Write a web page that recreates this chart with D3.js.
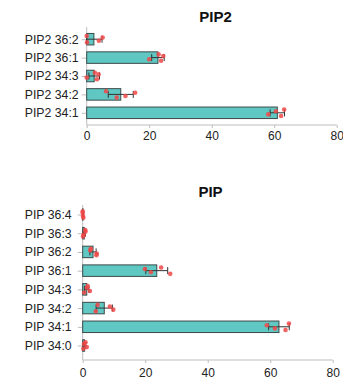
<!DOCTYPE html>
<html>
<head>
<meta charset="utf-8">
<script src="https://cdn.jsdelivr.net/npm/d3@7"></script>
<style>
  html, body { margin: 0; padding: 0; background: #fff; }
  svg { display: block; font-family: "Liberation Sans", Arial, sans-serif; }
</style>
</head>
<body>
<svg id="chart" width="343" height="385"></svg>
<script>
// PIP2 species: mean %, SD and individual replicates
const pip2Categories = ["PIP2 36:2", "PIP2 36:1", "PIP2 34:3", "PIP2 34:2", "PIP2 34:1"];
const pip2Means = [2.3, 22.8, 2.4, 10.9, 61.0];
const pip2Errors = [2.6, 2.0, 1.7, 4.0, 2.3];
const pip2Points = [
  [0.0, 0.1, 3.9, 5.1],
  [23.0, 23.8, 20.0, 24.5],
  [2.6, 3.3, 0.0, 3.8],
  [6.2, 9.6, 12.4, 15.5],
  [63.2, 62.2, 58.1, 60.5]
];

// PIP species
const pipCategories = ["PIP 36:4", "PIP 36:3", "PIP 36:2", "PIP 36:1", "PIP 34:3", "PIP 34:2", "PIP 34:1", "PIP 34:0"];
const pipMeans = [0.1, 0.5, 3.3, 23.7, 1.3, 6.9, 62.8, 0.6];
const pipErrors = [0.1, 0.35, 1.0, 3.5, 0.7, 2.6, 3.3, 0.4];
const pipPoints = [
  [0.0, 0.2, 0.1, 0.0],
  [0.8, 0.1, 0.3, 0.9],
  [2.6, 4.4, 4.5, 2.4],
  [25.1, 28.0, 21.8, 19.9],
  [1.6, 0.5, 2.3, 1.3],
  [4.8, 4.2, 9.8, 8.7],
  [66.0, 64.9, 61.5, 58.9],
  [0.9, 0.2, 1.3, 0.4]
];

const xTicks = [0, 20, 40, 60, 80];

const svg = d3.select("#chart");
const jitter = [-3.2, 3.2, 1.6, -1.6];

function drawPanel(cfg) {
  const g = svg.append("g");
  const x = d3.scaleLinear().domain([0, 80]).range(cfg.xRange);
  const y = d3.scalePoint().domain(cfg.categories).range(cfg.yCenters);
  const barH = 11.5;

  // title
  g.append("text")
    .attr("x", cfg.titleX).attr("y", cfg.titleY)
    .attr("text-anchor", "middle")
    .attr("font-weight", "bold")
    .attr("font-size", 15)
    .attr("fill", "#111")
    .text(cfg.title);

  // axis lines
  g.append("line")
    .attr("x1", x(0)).attr("x2", x(0))
    .attr("y1", cfg.axisTop).attr("y2", cfg.axisBottom)
    .attr("stroke", "#bdbdbd").attr("stroke-width", 1);
  g.append("line")
    .attr("x1", x(0)).attr("x2", cfg.xRange[1])
    .attr("y1", cfg.axisBottom).attr("y2", cfg.axisBottom)
    .attr("stroke", "#bdbdbd").attr("stroke-width", 1);

  // category axis
  const yAxis = g.append("g")
    .attr("transform", `translate(${x(0)},0)`)
    .call(d3.axisLeft(y).tickSize(5).tickSizeOuter(0).tickPadding(cfg.labelPad));
  yAxis.select(".domain").remove();
  yAxis.selectAll("line").attr("stroke", "#bdbdbd");
  yAxis.selectAll("text").attr("font-size", 12.3).attr("fill", "#222")
    .attr("font-family", "Liberation Sans, Arial, sans-serif");

  // value axis
  const xAxis = g.append("g")
    .attr("transform", `translate(0,${cfg.axisBottom})`)
    .call(d3.axisBottom(x).tickValues(xTicks).tickSize(3).tickSizeOuter(0).tickPadding(cfg.tickPad));
  xAxis.select(".domain").remove();
  xAxis.selectAll("line").attr("stroke", "#bdbdbd");
  xAxis.selectAll("text").attr("font-size", 12).attr("fill", "#222")
    .attr("font-family", "Liberation Sans, Arial, sans-serif");

  // bars
  g.selectAll("rect.bar").data(cfg.categories).enter().append("rect")
    .attr("class", "bar")
    .attr("x", x(0))
    .attr("y", d => y(d) - barH / 2)
    .attr("width", (d, i) => Math.max(0, x(cfg.means[i]) - x(0)))
    .attr("height", barH)
    .attr("fill", "#5fc8c3")
    .attr("stroke", "#3c4a4a")
    .attr("stroke-width", 1);

  // error bars (mean ± SD)
  const eb = g.selectAll("g.err").data(cfg.categories).enter().append("g").attr("class", "err");
  eb.append("line")
    .attr("x1", (d, i) => x(Math.max(0, cfg.means[i] - cfg.errors[i])))
    .attr("x2", (d, i) => x(cfg.means[i] + cfg.errors[i]))
    .attr("y1", d => y(d)).attr("y2", d => y(d))
    .attr("stroke", "#333").attr("stroke-width", 1);
  [-1, 1].forEach(s => {
    eb.append("line")
      .attr("x1", (d, i) => x(Math.max(0, cfg.means[i] + s * cfg.errors[i])))
      .attr("x2", (d, i) => x(Math.max(0, cfg.means[i] + s * cfg.errors[i])))
      .attr("y1", d => y(d) - 3.5).attr("y2", d => y(d) + 3.5)
      .attr("stroke", "#333").attr("stroke-width", 1);
  });

  // replicate points
  const pts = [];
  cfg.categories.forEach((c, i) => {
    cfg.points[i].forEach((v, j) => pts.push({ c, v, j }));
  });
  g.selectAll("circle.pt").data(pts).enter().append("circle")
    .attr("class", "pt")
    .attr("cx", d => x(d.v))
    .attr("cy", d => y(d.c) + jitter[d.j % jitter.length])
    .attr("r", 2.3)
    .attr("fill", "#f04848")
    .attr("fill-opacity", 0.85);
}

drawPanel({
  title: "PIP2", titleX: 215.5, titleY: 21.5,
  categories: pip2Categories, means: pip2Means, errors: pip2Errors, points: pip2Points,
  xRange: [86.7, 336.7], yCenters: [39.2, 112.8],
  axisTop: 27, axisBottom: 125, labelPad: 3, tickPad: 3
});

drawPanel({
  title: "PIP", titleX: 210.5, titleY: 197,
  categories: pipCategories, means: pipMeans, errors: pipErrors, points: pipPoints,
  xRange: [82.7, 332.7], yCenters: [214.5, 345.5],
  axisTop: 205, axisBottom: 360, labelPad: 6, tickPad: 5
});
</script>
</body>
</html>
